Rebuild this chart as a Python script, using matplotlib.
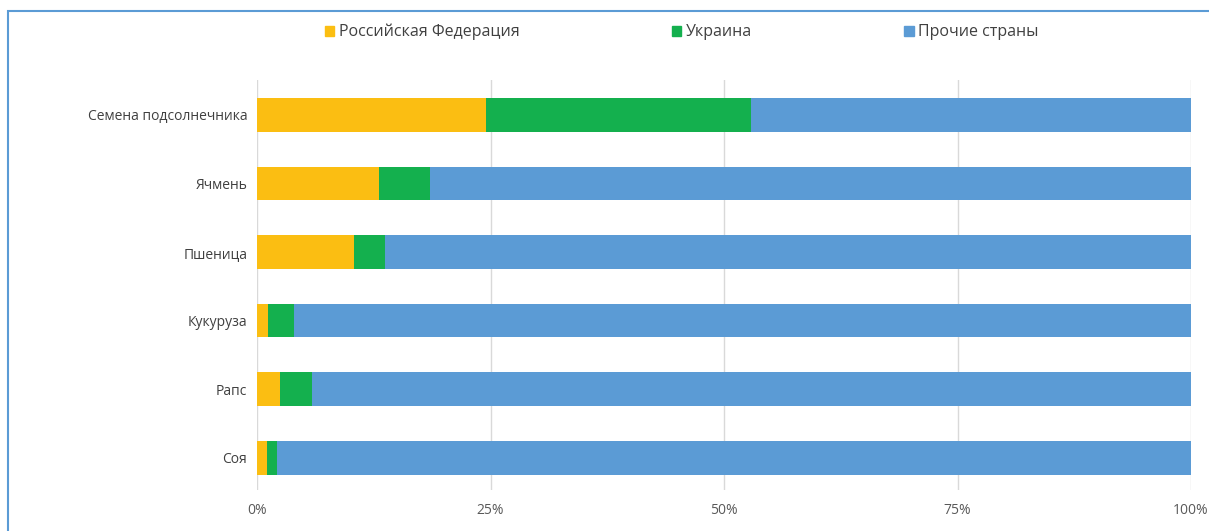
import matplotlib.pyplot as plt
import matplotlib.patches as mpatches
import numpy as np

plt.rcParams['font.family'] = ['Open Sans', 'DejaVu Sans']

crops = ["Семена подсолнечника", "Ячмень", "Пшеница", "Кукуруза", "Рапс", "Соя"]
russia = [24.5, 13.1, 10.4, 1.2, 2.5, 1.1]
ukraine = [28.4, 5.4, 3.3, 2.8, 3.4, 1.0]
others = [100 - r - u for r, u in zip(russia, ukraine)]

series_names = ["Российская Федерация", "Украина", "Прочие страны"]
colors = ["#FBBE12", "#14B04E", "#5B9BD5"]

fig = plt.figure(figsize=(12.09, 5.31), dpi=100)
ax = fig.add_axes([257 / 1209, 1 - 490 / 531, (1191 - 257) / 1209, (490 - 80) / 531])

y = np.arange(len(crops))[::-1]
h = 0.49
left = np.zeros(len(crops))
for vals, c in zip([russia, ukraine, others], colors):
    ax.barh(y, vals, left=left, height=h, color=c, zorder=3)
    left = left + np.array(vals)

ax.set_xlim(0, 100)
ax.set_ylim(-0.47, 5.51)
ax.set_xticks([0, 25, 50, 75, 100])
ax.set_xticklabels(["0%", "25%", "50%", "75%", "100%"])
ax.set_yticks(y)
ax.set_yticklabels(crops)
ax.tick_params(axis='x', length=0, pad=9, labelsize=10, labelcolor="#595959")
ax.tick_params(axis='y', length=0, pad=7, labelsize=10, labelcolor="#404040")
for s in ax.spines.values():
    s.set_visible(False)
ax.grid(axis='x', color="#D9D9D9", linewidth=1, zorder=0)

handles = [mpatches.Patch(color=c, label=n) for c, n in zip(colors, series_names)]
fig.legend(handles=handles, loc='center', bbox_to_anchor=(0.564, 1 - 32 / 531), ncol=3,
           frameon=False, fontsize=11.5, handlelength=0.6, handleheight=0.6,
           handletextpad=0.3, columnspacing=9.5, labelcolor="#404040")

# outer frame
fig.patches.append(mpatches.Rectangle((8 / 1209, -0.1), 1.2, 1 - 11 / 531 + 0.1,
                                      transform=fig.transFigure, fill=False,
                                      edgecolor="#5B9BD5", linewidth=1.5))

fig.savefig("out.png", dpi=100)
